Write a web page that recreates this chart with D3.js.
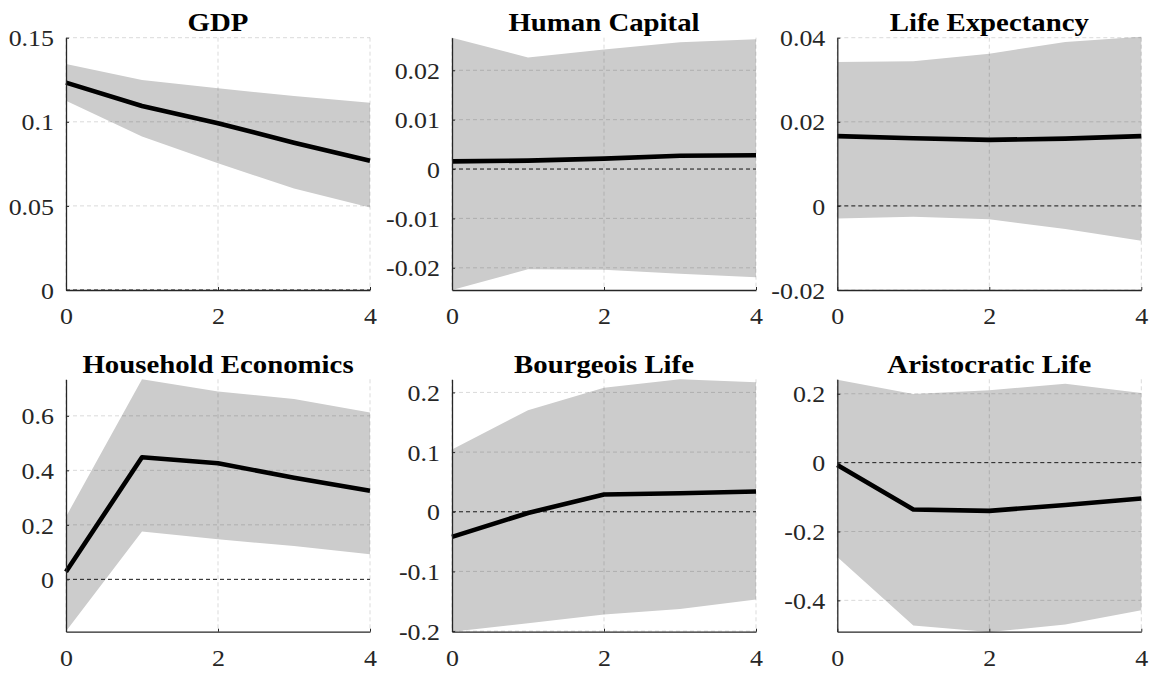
<!DOCTYPE html>
<html>
<head>
<meta charset="utf-8">
<script src="https://cdn.jsdelivr.net/npm/d3@7"></script>
<style>
  html, body { margin: 0; padding: 0; background: #ffffff; }
  svg { display: block; }
  text { font-family: "Liberation Serif", "Times New Roman", serif; }
</style>
</head>
<body>
<svg id="chart" width="1154" height="673"></svg>
<script>
// ---- data ----
const horizons = [0, 1, 2, 3, 4];
const titles = ["GDP", "Human Capital", "Life Expectancy", "Household Economics", "Bourgeois Life", "Aristocratic Life"];

const gdpMean  = [0.1233, 0.1094, 0.0991, 0.0876, 0.0769];
const gdpLow   = [0.1125, 0.0912, 0.0753, 0.0604, 0.0491];
const gdpHigh  = [0.1343, 0.1248, 0.1199, 0.1153, 0.1114];

const hcMean   = [0.00155, 0.0017, 0.0021, 0.0027, 0.0028];
const hcLow    = [-0.0245, -0.0203, -0.0204, -0.0212, -0.0219];
const hcHigh   = [0.0266, 0.0226, 0.0242, 0.0257, 0.0263];

const leMean   = [0.0166, 0.0161, 0.0157, 0.0160, 0.0166];
const leLow    = [-0.0030, -0.0026, -0.0032, -0.0055, -0.0083];
const leHigh   = [0.0342, 0.0344, 0.0362, 0.0390, 0.0402];

const heMean   = [0.028, 0.448, 0.426, 0.373, 0.325];
const heLow    = [-0.190, 0.176, 0.147, 0.122, 0.092];
const heHigh   = [0.230, 0.734, 0.689, 0.662, 0.612];

const blMean   = [-0.042, -0.002, 0.029, 0.031, 0.034];
const blLow    = [-0.201, -0.187, -0.172, -0.163, -0.147];
const blHigh   = [0.1045, 0.170, 0.208, 0.222, 0.217];

const alMean   = [-0.007, -0.136, -0.140, -0.123, -0.104];
const alLow    = [-0.274, -0.473, -0.492, -0.470, -0.429];
const alHigh   = [0.241, 0.199, 0.210, 0.229, 0.202];

const yDomains = [[0, 0.15], [-0.0245, 0.0266], [-0.02, 0.04], [-0.192, 0.734], [-0.201, 0.222], [-0.491, 0.242]];
const yTicks = [
  [0, 0.05, 0.1, 0.15],
  [-0.02, -0.01, 0, 0.01, 0.02],
  [-0.02, 0, 0.02, 0.04],
  [0, 0.2, 0.4, 0.6],
  [-0.2, -0.1, 0, 0.1, 0.2],
  [-0.4, -0.2, 0, 0.2]
];
const xTicks = [0, 2, 4];

const means = [gdpMean, hcMean, leMean, heMean, blMean, alMean];
const lows  = [gdpLow, hcLow, leLow, heLow, blLow, alLow];
const highs = [gdpHigh, hcHigh, leHigh, heHigh, blHigh, alHigh];

// ---- layout ----
const colLeft = [66, 452, 837.3];
const colRight = [370, 756, 1141.3];
const rowTop = [37.7, 379.3];
const rowBottom = [290, 631.7];
const tickFont = 24, tickSX = 1.08;
const titleFont = 25.5, titleSX = 1.13;

const svg = d3.select("#chart");
const fmt = v => (v === 0 ? "0" : String(+v.toFixed(4)));

titles.forEach((title, i) => {
  const c = i % 3, r = Math.floor(i / 3);
  const x0 = colLeft[c], x1 = colRight[c], y0 = rowTop[r], y1 = rowBottom[r];
  const x = d3.scaleLinear().domain([0, 4]).range([x0, x1]);
  const y = d3.scaleLinear().domain(yDomains[i]).range([y1, y0]);
  const g = svg.append("g");

  const rows = horizons.map((h, k) => ({ h, m: means[i][k], lo: lows[i][k], hi: highs[i][k] }));

  // band
  g.append("path")
    .datum(rows)
    .attr("fill", "#cccccc")
    .attr("stroke", "none")
    .attr("d", d3.area().x(d => x(d.h)).y0(d => y(d.lo)).y1(d => y(d.hi)));

  // grid
  const grid = g.append("g").attr("stroke", "#262626").attr("stroke-opacity", 0.17)
    .attr("stroke-width", 1).attr("stroke-dasharray", "4,3").attr("fill", "none");
  yTicks[i].forEach(t => {
    grid.append("line").attr("x1", x0).attr("x2", x1).attr("y1", y(t)).attr("y2", y(t));
  });
  xTicks.forEach(t => {
    grid.append("line").attr("x1", x(t)).attr("x2", x(t)).attr("y1", y0).attr("y2", y1);
  });

  // zero line
  g.append("line")
    .attr("x1", x(0)).attr("x2", x(4)).attr("y1", y(0)).attr("y2", y(0))
    .attr("stroke", "#222").attr("stroke-width", 1).attr("stroke-dasharray", "4,3");

  // mean line
  g.append("path")
    .datum(rows)
    .attr("fill", "none")
    .attr("stroke", "#000")
    .attr("stroke-width", 4.6)
    .attr("stroke-linejoin", "round")
    .attr("d", d3.line().x(d => x(d.h)).y(d => y(d.m)));

  // axes
  const yAxis = d3.axisLeft(y).tickValues(yTicks[i]).tickFormat(fmt).tickSizeInner(-3).tickSizeOuter(0);
  const xAxis = d3.axisBottom(x).tickValues(xTicks).tickFormat(d3.format("d")).tickSizeInner(-3).tickSizeOuter(0);

  const ya = g.append("g").attr("transform", `translate(${x0},0)`).call(yAxis);
  const xa = g.append("g").attr("transform", `translate(0,${y1})`).call(xAxis);
  [ya, xa].forEach(a => {
    a.select(".domain").attr("stroke", "#262626").attr("stroke-width", 1.3);
    a.selectAll(".tick line").attr("stroke", "#262626").attr("stroke-width", 1);
    a.selectAll(".tick text").attr("fill", "#262626").style("font-size", tickFont + "px")
      .style("font-family", "'Liberation Serif', 'Times New Roman', serif");
  });
  ya.selectAll(".tick text")
    .attr("x", -12 / tickSX).attr("dy", "0.34em")
    .attr("transform", `scale(${tickSX},1)`);
  xa.selectAll(".tick text")
    .attr("y", 17).attr("dy", "0.72em")
    .attr("transform", `scale(${tickSX},1)`);

  // title
  g.append("text")
    .attr("transform", `translate(${(x0 + x1) / 2},${y0 - 6.3}) scale(${titleSX},1)`)
    .attr("text-anchor", "middle")
    .attr("fill", "#000")
    .style("font-size", titleFont + "px")
    .style("font-weight", "bold")
    .text(title);
});
</script>
</body>
</html>
